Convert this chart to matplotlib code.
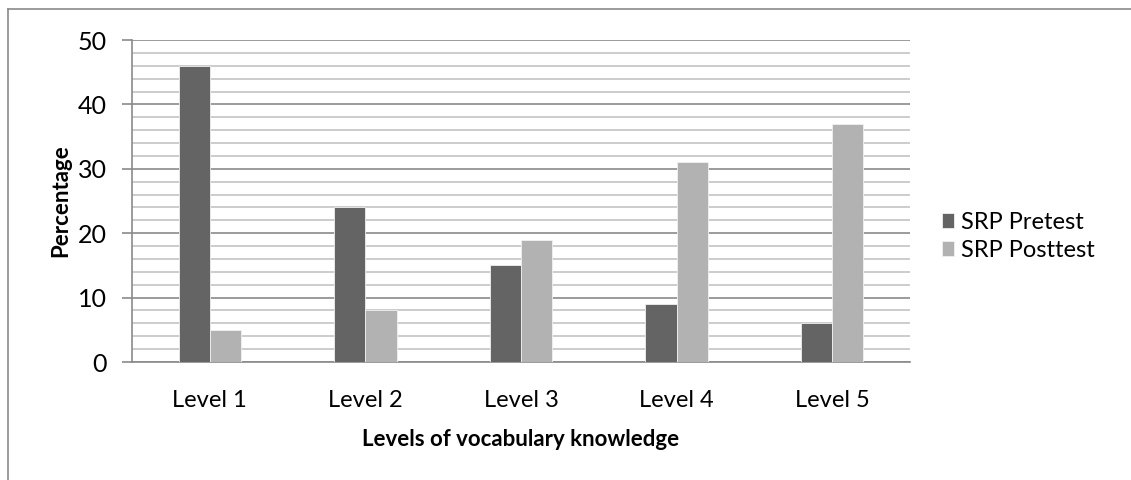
import matplotlib.pyplot as plt
import numpy as np
from matplotlib.lines import Line2D
from matplotlib.ticker import MultipleLocator

levels = ["Level 1", "Level 2", "Level 3", "Level 4", "Level 5"]
pretest = [46, 24, 15, 9, 6]
posttest = [5, 8, 19, 31, 37]

plt.rcParams['font.family'] = ['Lato', 'DejaVu Sans']

fig = plt.figure(figsize=(11.31, 4.8), dpi=100)
ax = fig.add_axes([132 / 1131, 118 / 480, 778 / 1131, 322 / 480])

x = np.arange(len(levels))
w = 0.2
ax.bar(x - w / 2, pretest, w, color='#646464', edgecolor='#f0f0f0', linewidth=0.6,
       label='SRP Pretest', zorder=3)
ax.bar(x + w / 2, posttest, w, color='#b2b2b2', edgecolor='#f0f0f0', linewidth=0.6,
       label='SRP Posttest', zorder=3)

ax.set_xlim(-0.5, len(levels) - 0.5)
ax.set_ylim(0, 50)
ax.yaxis.set_major_locator(MultipleLocator(10))
ax.yaxis.set_minor_locator(MultipleLocator(2))
ax.grid(which='minor', axis='y', color='#c4c4c4', linewidth=1.2, zorder=0)
ax.grid(which='major', axis='y', color='#8a8a8a', linewidth=1.2, zorder=1)

ax.set_xticks(x)
ax.set_xticklabels(levels, fontsize=17)
ax.tick_params(axis='x', length=0, pad=20)
ax.tick_params(axis='y', which='major', length=7, color='#8a8a8a', width=1.2,
               labelsize=18, pad=11)
ax.tick_params(axis='y', which='minor', length=0)

for s in ['top', 'right']:
    ax.spines[s].set_visible(False)
for s in ['left', 'bottom']:
    ax.spines[s].set_color('#8a8a8a')
    ax.spines[s].set_linewidth(1.2)

ax.set_ylabel('Percentage', fontsize=16, fontweight='bold', labelpad=5)
ax.set_xlabel('Levels of vocabulary knowledge', fontsize=16, fontweight='bold', labelpad=13)

ax.legend(loc='center left', bbox_to_anchor=(1.041, 0.39), frameon=False, fontsize=17,
          borderpad=0, borderaxespad=0,
          handlelength=0.5, handleheight=0.6, handletextpad=0.3, labelspacing=0.3)

# outer chart border (left and top edges visible)
fig.add_artist(Line2D([8 / 1131, 8 / 1131], [0, 1 - 9 / 480], transform=fig.transFigure,
                      color='#8a8a8a', linewidth=1.2))
fig.add_artist(Line2D([8 / 1131, 1], [1 - 9 / 480, 1 - 9 / 480], transform=fig.transFigure,
                      color='#8a8a8a', linewidth=1.2))

fig.savefig('out.png', dpi=100, facecolor='white')
